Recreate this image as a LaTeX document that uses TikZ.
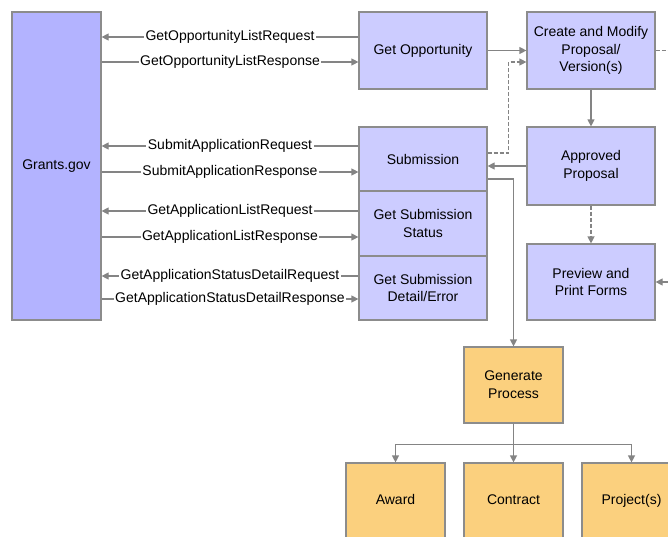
\documentclass[tikz,border=0pt]{standalone}
\usepackage{fontspec}
\setmainfont{Liberation Sans}
\usetikzlibrary{arrows.meta}
\definecolor{lavender}{HTML}{CCCCFF}
\definecolor{grantsblue}{HTML}{B3B3FF}
\definecolor{peach}{HTML}{FBD07E}
\definecolor{edgegray}{HTML}{8C8C8C}
\definecolor{linegray}{HTML}{848484}
\begin{document}
\begin{tikzpicture}[x=1pt, y=1pt, font=\fontsize{14}{17.5}\selectfont,
  box/.style={draw=edgegray, line width=1.2pt, fill=lavender, minimum width=128pt, align=center, inner sep=0pt},
  orangebox/.style={box, fill=peach, minimum width=99pt, minimum height=76pt},
  leafbox/.style={orangebox, text height=10pt, text depth=3pt},
  link/.style={draw=linegray, line width=1.2pt, -{Triangle[length=7pt,width=7pt]}},
  plain/.style={draw=linegray, line width=1.2pt},
  dashlink/.style={link, dash pattern=on 4pt off 2pt},
  msg/.style={midway, fill=white, inner sep=1.5pt}]
\clip (0,0) rectangle (668,-536);

% Boxes
\node[box, fill=grantsblue, minimum width=89pt, minimum height=308pt] (grants) at (56.5,-166) {Grants.gov};
\node[box, minimum height=77pt] (opportunity) at (423,-50.5) {Get Opportunity};
\node[box, minimum height=77pt] (create) at (591,-50.5) {Create and Modify\\Proposal/\\Version(s)};
\node[box, minimum height=64pt] (submission) at (423,-159) {Submission};
\node[box, minimum height=65pt] (status) at (423,-223.5) {Get Submission\\Status};
\node[box, minimum height=64pt] (detail) at (423,-288) {Get Submission\\Detail/Error};
\node[box, minimum height=78pt] (approved) at (591,-166) {Approved\\[0.5pt]Proposal};
\node[box, minimum height=76pt] (preview) at (591,-282) {Preview and\\Print Forms};
\node[orangebox] (generate) at (513.5,-385) {Generate\\[0.5pt]Process};
\node[leafbox] (award) at (395.5,-501) {Award};
\node[leafbox] (contract) at (513.5,-501) {Contract};
\node[leafbox] (projects) at (631.5,-501) {Project(s)};
\coordinate (offcreate) at (680,-50.5);
\coordinate (offpreview) at (680,-282);

% Messages to and from Grants.gov
\draw[link] ([yshift=13.5pt]opportunity.west) -- ([yshift=13.5pt]opportunity.west -| grants.east) node[msg] {GetOpportunityListRequest};
\draw[link] ([yshift=-11.5pt]opportunity.west -| grants.east) -- ([yshift=-11.5pt]opportunity.west) node[msg] {GetOpportunityListResponse};
\draw[link] ([yshift=13pt]submission.west) -- ([yshift=13pt]submission.west -| grants.east) node[msg] {SubmitApplicationRequest};
\draw[link] ([yshift=-13pt]submission.west -| grants.east) -- ([yshift=-13pt]submission.west) node[msg] {SubmitApplicationResponse};
\draw[link] ([yshift=12.5pt]status.west) -- ([yshift=12.5pt]status.west -| grants.east) node[msg] {GetApplicationListRequest};
\draw[link] ([yshift=-13.5pt]status.west -| grants.east) -- ([yshift=-13.5pt]status.west) node[msg] {GetApplicationListResponse};
\draw[link] ([yshift=12pt]detail.west) -- ([yshift=12pt]detail.west -| grants.east) node[msg] {GetApplicationStatusDetailRequest};
\draw[link] ([yshift=-11pt]detail.west -| grants.east) -- ([yshift=-11pt]detail.west) node[msg] {GetApplicationStatusDetailResponse};

% Proposal flow
\draw[link] (opportunity) -- (create);
\draw[dashlink] ([yshift=6pt]submission.east) -- ++(21,0) |- ([yshift=-11.5pt]create.west);
\draw[link] (create) -- (approved);
\draw[link] (approved.west) -- (approved.west -| submission.east);
\draw[dashlink] (approved) -- (preview);
\draw[plain, dash pattern=on 4pt off 2pt] (create) -- (offcreate);
\draw[link] (offpreview) -- (preview);
\draw[link] ([yshift=-20pt]submission.east) -| (generate.north);

% Generated items
\draw[link] (generate) -- (contract);
\draw[link] (generate.south) -- ++(0,-21) -| (award.north);
\draw[link] (generate.south) -- ++(0,-21) -| (projects.north);
\end{tikzpicture}
\end{document}
